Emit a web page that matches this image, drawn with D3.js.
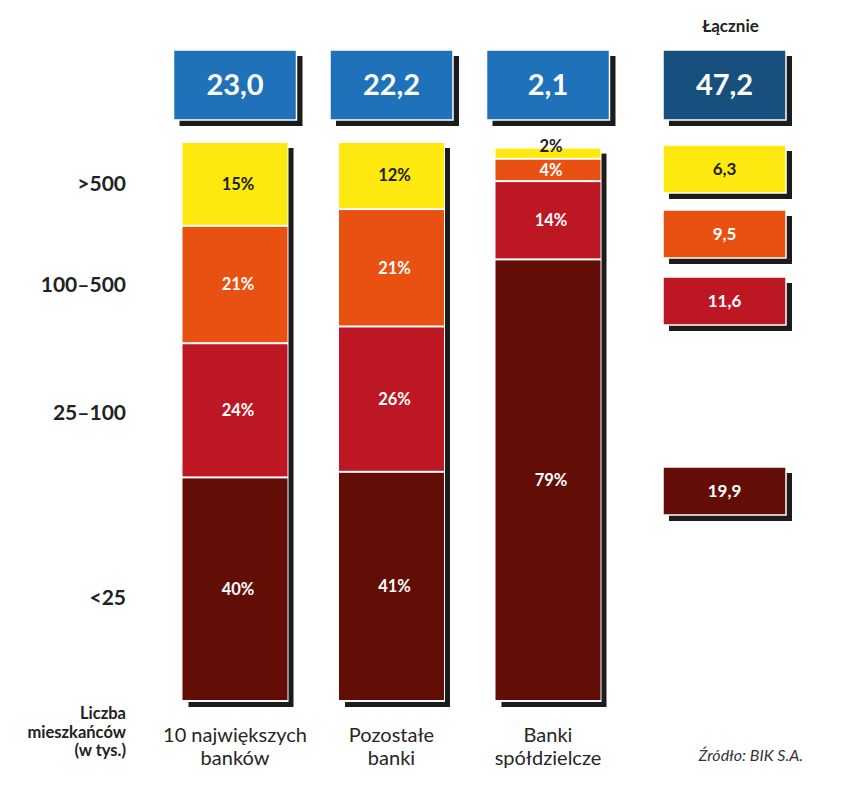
<!DOCTYPE html>
<html>
<head>
<meta charset="utf-8">
<script src="https://cdn.jsdelivr.net/npm/d3@7"></script>
<style>
  body { margin: 0; background: #fff; }
  svg { font-family: Lato, "Open Sans", sans-serif; }
</style>
</head>
<body>
<div id="chart"></div>
<script>
// data
const banks = ["10 największych banków", "Pozostałe banki", "Banki spółdzielcze"];
const bankLines = [["10 największych", "banków"], ["Pozostałe", "banki"], ["Banki", "spółdzielcze"]];
const bankTotals = ["23,0", "22,2", "2,1"];
const grandTotal = "47,2";
const groups = ["<25", "25–100", "100–500", ">500"];
const share = {
    "<25": [40, 41, 79],
    "25–100": [24, 26, 14],
    "100–500": [21, 21, 4],
    ">500": [15, 12, 2]
};
const groupTotals = ["19,9", "11,6", "9,5", "6,3"];

const colors = { "<25": "#630d07", "25–100": "#be1724", "100–500": "#e85112", ">500": "#fde910" };
const textColors = { "<25": "#fff", "25–100": "#fff", "100–500": "#fff", ">500": "#1e1e1e" };

const W = 847, H = 789;
const svg = d3.select("#chart").append("svg").attr("width", W).attr("height", H);

const x = d3.scalePoint().domain(banks).range([235, 548]);
const y = d3.scaleLinear().domain([0, 100]).range([701, 142]);
const barW = 105;

function shadowBox(g, x0, y0, w, h, fill) {
    g.append("rect").attr("x", x0 + 6).attr("y", y0 + 6).attr("width", w).attr("height", h)
        .attr("fill", "#1c1c1c");
    g.append("rect").attr("x", x0).attr("y", y0).attr("width", w).attr("height", h)
        .attr("fill", fill).attr("stroke", "#fff").attr("stroke-width", 1.5);
}

// stacked bars
const series = d3.stack().keys(groups)(banks.map((b, i) => {
    const row = { bank: b };
    groups.forEach(k => row[k] = share[k][i]);
    return row;
}));

banks.forEach((b, i) => {
    const g = svg.append("g");
    const top = d3.max(series, s => s[i][1]);
    // shadow of whole stack
    g.append("rect").attr("x", x(b) - barW / 2 + 6).attr("y", y(top) + 6)
        .attr("width", barW).attr("height", y(0) - y(top)).attr("fill", "#1c1c1c");
    g.append("rect").attr("x", x(b) - barW / 2 - 1).attr("y", y(top) - 1)
        .attr("width", barW + 2).attr("height", y(0) - y(top) + 2).attr("fill", "#fff");
    series.forEach(s => {
        const d = s[i];
        const h = y(d[0]) - y(d[1]);
        g.append("rect")
            .attr("x", x(b) - barW / 2)
            .attr("y", y(d[1]) + 1)
            .attr("width", barW)
            .attr("height", Math.max(0, h - 2))
            .attr("fill", colors[s.key]);
        g.append("text")
            .attr("x", x(b) + 3)
            .attr("y", (y(d[0]) + y(d[1])) / 2 - (h < 15 ? 7 : 0))
            .attr("dy", "0.35em")
            .attr("text-anchor", "middle")
            .attr("font-size", 16.5)
            .attr("font-weight", 700)
            .attr("fill", textColors[s.key])
            .text(d.data[s.key] + "%");
    });

    // header box
    shadowBox(svg, x(b) - 61.5, 50, 123, 70, "#1f72b9");
    svg.append("text").attr("x", x(b)).attr("y", 85).attr("dy", "0.35em")
        .attr("text-anchor", "middle").attr("font-size", 29).attr("font-weight", 700)
        .attr("fill", "#fff").text(bankTotals[i]);

    // category label
    svg.append("text").attr("x", x(b)).attr("y", 742).attr("text-anchor", "middle")
        .attr("font-size", 20).attr("fill", "#262626")
        .selectAll("tspan").data(bankLines[i]).join("tspan")
        .attr("x", x(b)).attr("dy", (d, j) => j ? 23 : 0).text(d => d);
});

// totals column
const totX = 724.5;
svg.append("text").attr("x", totX + 6).attr("y", 32).attr("text-anchor", "middle")
    .attr("font-size", 17).attr("font-weight", 700).attr("fill", "#222").text("Łącznie");
shadowBox(svg, totX - 61.5, 50, 123, 70, "#174f7e");
svg.append("text").attr("x", totX).attr("y", 85).attr("dy", "0.35em")
    .attr("text-anchor", "middle").attr("font-size", 29).attr("font-weight", 700)
    .attr("fill", "#fff").text(grandTotal);

const boxTop = { ">500": 145, "100–500": 210, "25–100": 277, "<25": 467 };
groups.forEach((k, i) => {
    shadowBox(svg, totX - 61.5, boxTop[k], 123, 48, colors[k]);
    svg.append("text").attr("x", totX).attr("y", boxTop[k] + 24).attr("dy", "0.35em")
        .attr("text-anchor", "middle").attr("font-size", 17).attr("font-weight", 700)
        .attr("fill", textColors[k]).text(groupTotals[i]);
});

// row labels on the left
const labelY = { ">500": 184, "100–500": 285, "25–100": 413, "<25": 598 };
groups.forEach(k => {
    svg.append("text").attr("x", 126).attr("y", labelY[k]).attr("dy", "0.35em")
        .attr("text-anchor", "end").attr("font-size", 21).attr("font-weight", 700)
        .attr("fill", "#222").text(k);
});

svg.append("text").attr("x", 126).attr("y", 719).attr("text-anchor", "end")
    .attr("font-size", 16.5).attr("font-weight", 700).attr("fill", "#222")
    .selectAll("tspan").data(["Liczba", "mieszkańców", "(w tys.)"]).join("tspan")
    .attr("x", 126).attr("dy", (d, j) => j ? 18.5 : 0).text(d => d);

svg.append("text").attr("x", 803).attr("y", 761).attr("text-anchor", "end")
    .attr("font-size", 16).attr("font-style", "italic").attr("fill", "#333")
    .text("Źródło: BIK S.A.");
</script>
</body>
</html>
